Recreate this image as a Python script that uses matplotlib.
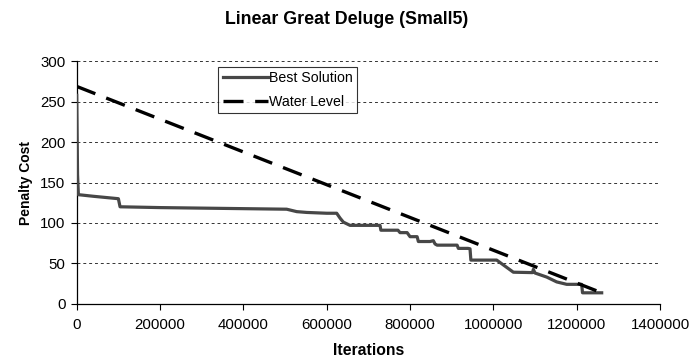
import numpy as np
import matplotlib.pyplot as plt

plt.rcParams['font.family'] = ['Liberation Sans', 'DejaVu Sans']

# Best solution found so far (iterations, penalty cost)
best_iter = [0, 2000, 4000, 40000, 100000, 104000, 200000, 504000, 528000, 552000,
             600000, 624000, 632000, 640000, 656000, 728000, 730000, 771000, 776000,
             793000, 800000, 817000, 820000, 848000, 856000, 860000, 865000, 913000,
             916000, 939000, 944000, 946000, 1008000, 1024000, 1048000, 1094000, 1096000,
             1100000, 1128000, 1152000, 1176000, 1212000, 1214000, 1260000]
best_cost = [258, 160, 135, 133, 130, 120, 119, 117, 114, 113,
             112, 112, 106, 101, 97, 97, 91, 91, 88,
             88, 83, 83, 77, 77, 78, 74, 72.5, 72.5,
             68.5, 68.5, 68, 54, 54, 48, 39, 38.5, 42.5,
             38, 33, 27, 24, 24, 13.5, 13.5]

# Linear water level from initial level down to the final one
water_iter = [0, 1260000]
water_level = [269, 13.5]

fig = plt.figure(figsize=(6.93, 3.59), dpi=100)
ax = fig.add_axes([0.1107, 0.154, 0.8417, 0.675])

ax.plot(best_iter, best_cost, color='#474747', lw=2.3,
        label='Best Solution', zorder=3)
ax.plot(water_iter, water_level, color='black', lw=2.4, dashes=(6, 3.5),
        label='Water Level', zorder=4)

ax.set_xlim(0, 1400000)
ax.set_ylim(0, 300)
ax.set_xticks(np.arange(0, 1400001, 200000))
ax.set_yticks(np.arange(0, 301, 50))
ax.ticklabel_format(style='plain', axis='x')
ax.tick_params(direction='out', length=4, width=0.8, labelsize=10.8, colors='black')
ax.tick_params(axis='x', pad=6)
ax.tick_params(axis='y', pad=4)

for s in ['top', 'right']:
    ax.spines[s].set_visible(False)
for s in ['left', 'bottom']:
    ax.spines[s].set_linewidth(0.9)

ax.yaxis.grid(True, color='#333333', lw=0.7, dashes=(3, 3))
ax.set_axisbelow(True)

ax.set_xlabel('Iterations', fontsize=11.3, fontweight='bold', labelpad=8)
ax.set_ylabel('Penalty Cost', fontsize=10, fontweight='bold', labelpad=5)
fig.text(0.5, 0.945, 'Linear Great Deluge (Small5)', ha='center', va='center',
         fontsize=12.8, fontweight='bold')

leg = ax.legend(loc='upper left', bbox_to_anchor=(0.243, 0.978), fontsize=10.2,
                frameon=True, fancybox=False, borderpad=0.3, handlelength=3.2,
                handletextpad=0.1, labelspacing=0.7, borderaxespad=0)
leg.get_frame().set_edgecolor('black')
leg.get_frame().set_linewidth(0.8)

fig.savefig('out.png', dpi=100)
